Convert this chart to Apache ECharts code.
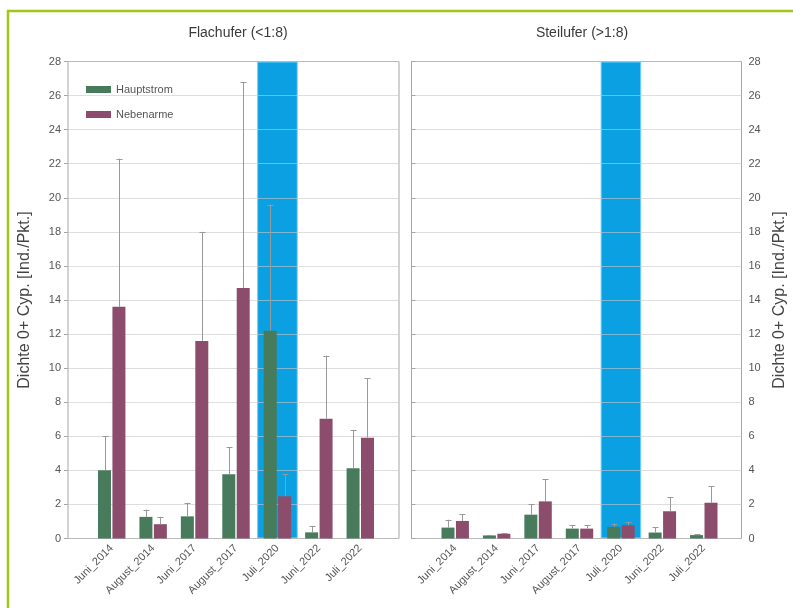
<!DOCTYPE html>
<html>
<head>
<meta charset="utf-8">
<script src="https://cdn.jsdelivr.net/npm/echarts@6/dist/echarts.min.js"></script>
<style>
  html, body { margin: 0; padding: 0; background: #ffffff; }
  #chart { width: 793px; height: 608px; }
</style>
</head>
<body>
<div id="chart"></div>
<script>
// Sampling dates
const categories = ['Juni_2014', 'August_2014', 'Juni_2017', 'August_2017', 'Juli_2020', 'Juni_2022', 'Juli_2022'];
const highlighted = 'Juli_2020';
const yTicks = { min: 0, max: 28, interval: 2 };

// Flachufer (<1:8): mean density and upper deviation
const flachHaupt   = [4.0, 1.27, 1.3, 3.77, 12.2, 0.36, 4.13];
const flachHauptSd = [2.0, 0.43, 0.8, 1.6, 7.4, 0.38, 2.25];
const flachNeben   = [13.6, 0.84, 11.6, 14.7, 2.48, 7.03, 5.92];
const flachNebenSd = [8.7, 0.43, 6.4, 12.1, 1.3, 3.7, 3.5];

// Steilufer (>1:8)
const steilHaupt   = [0.64, 0.18, 1.4, 0.58, 0.68, 0.35, 0.2];
const steilHauptSd = [0.46, 0.04, 0.6, 0.2, 0.2, 0.33, 0.05];
const steilNeben   = [1.03, 0.28, 2.18, 0.58, 0.78, 1.6, 2.1];
const steilNebenSd = [0.39, 0.04, 1.3, 0.2, 0.2, 0.83, 0.96];

const seriesNames = ['Hauptstrom', 'Nebenarme'];
const colors = { haupt: '#477b5c', neben: '#8c4d6c', band: '#0aa0e2', err: '#999999' };
const yName = 'Dichte 0+ Cyp. [Ind./Pkt.]';
const font = 'Liberation Sans, Arial, sans-serif';

const TOP = 61.5, HEIGHT = 477;
const BAR_W = 13, HALF_OFF = 7.2;

const chart = echarts.init(document.getElementById('chart'), null, { renderer: 'canvas' });

function frameY(position) {
  return {
    type: 'value', position: position, min: yTicks.min, max: yTicks.max, interval: yTicks.interval,
    axisLine: { show: false },
    axisTick: { show: true, length: 4, lineStyle: { color: '#a6a6a6' } },
    axisLabel: { color: '#555', fontSize: 11, fontFamily: font, margin: 7 },
    splitLine: { show: true, lineStyle: { color: 'rgba(200,200,200,0.6)', width: 1 } },
    name: yName, nameLocation: 'middle', nameRotate: 90,
    nameGap: position === 'left' ? 35 : 30,
    nameTextStyle: { color: '#444', fontSize: 16, fontFamily: font }
  };
}
function hiddenY() {
  return { type: 'value', min: yTicks.min, max: yTicks.max, show: false, splitLine: { show: false } };
}
function catX(gridIndex, showLabels) {
  return {
    type: 'category', gridIndex: gridIndex, data: categories,
    axisLine: { show: false }, axisTick: { show: false }, splitLine: { show: false },
    axisLabel: showLabels ? { show: true, rotate: 45, color: '#555', fontSize: 11, fontFamily: font, margin: 8, interval: 0 } : { show: false }
  };
}

function errorSeries(name, xIdx, yIdx, means, sds, offset) {
  return {
    type: 'custom', name: name + '_err', xAxisIndex: xIdx, yAxisIndex: yIdx, z: 5, silent: true,
    data: means.map((m, i) => [i, m, m + sds[i]]),
    renderItem: function (params, api) {
      const base = api.coord([api.value(0), api.value(1)]);
      const top = api.coord([api.value(0), api.value(2)]);
      const x = Math.round(base[0] + offset) + 0.5;
      const style = { stroke: colors.err, lineWidth: 1 };
      return {
        type: 'group',
        children: [
          { type: 'line', shape: { x1: x, y1: base[1], x2: x, y2: top[1] }, style: style },
          { type: 'line', shape: { x1: x - 3, y1: Math.round(top[1]) + 0.5, x2: x + 3, y2: Math.round(top[1]) + 0.5 }, style: style }
        ]
      };
    }
  };
}

function panelSeries(xIdx, bandX, yIdx, haupt, hauptSd, neben, nebenSd) {
  return [
    {
      // highlighted sampling date, drawn beneath the grid lines
      type: 'bar', xAxisIndex: bandX, yAxisIndex: yIdx, barWidth: '98%', z: -1, silent: true,
      itemStyle: { color: colors.band, borderColor: '#6fd0f8', borderWidth: 1 },
      data: categories.map(c => c === highlighted ? yTicks.max : null)
    },
    {
      type: 'bar', name: seriesNames[0], xAxisIndex: xIdx, yAxisIndex: yIdx, barWidth: BAR_W, barGap: '11%', z: 3,
      itemStyle: { color: colors.haupt }, data: haupt
    },
    {
      type: 'bar', name: seriesNames[1], xAxisIndex: xIdx, yAxisIndex: yIdx, barWidth: BAR_W, barGap: '11%', z: 3,
      itemStyle: { color: colors.neben }, data: neben
    },
    errorSeries(seriesNames[0], xIdx, yIdx, haupt, hauptSd, -HALF_OFF),
    errorSeries(seriesNames[1], xIdx, yIdx, neben, nebenSd, HALF_OFF)
  ];
}

const option = {
  backgroundColor: '#ffffff',
  animation: false,
  textStyle: { fontFamily: font },
  title: [
    { text: 'Flachufer (<1:8)', left: 233, top: 21, textAlign: 'center', textStyle: { color: '#3a3a3a', fontSize: 14, fontWeight: 'normal', fontFamily: font } },
    { text: 'Steilufer (>1:8)', left: 577, top: 21, textAlign: 'center', textStyle: { color: '#3a3a3a', fontSize: 14, fontWeight: 'normal', fontFamily: font } }
  ],
  legend: {
    data: seriesNames, orient: 'vertical', left: 81, top: 79, itemWidth: 25, itemHeight: 7, itemGap: 14,
    icon: 'rect', textStyle: { color: '#555', fontSize: 11, fontFamily: font }
  },
  grid: [
    { left: 68, top: TOP, width: 331, height: HEIGHT, show: true, borderColor: '#a6a6a6', borderWidth: 1, backgroundColor: 'transparent' },
    { left: 91, top: TOP, width: 290, height: HEIGHT },
    { left: 411.5, top: TOP, width: 330, height: HEIGHT, show: true, borderColor: '#a6a6a6', borderWidth: 1, backgroundColor: 'transparent' },
    { left: 434.5, top: TOP, width: 290, height: HEIGHT }
  ],
  xAxis: [
    { type: 'value', gridIndex: 0, show: false },
    catX(1, true),
    catX(1, false),
    { type: 'value', gridIndex: 2, show: false },
    catX(3, true),
    catX(3, false)
  ],
  yAxis: [
    Object.assign(frameY('left'), { gridIndex: 0 }),
    Object.assign(hiddenY(), { gridIndex: 1 }),
    Object.assign(frameY('right'), { gridIndex: 2 }),
    Object.assign(hiddenY(), { gridIndex: 3 })
  ],
  series: [].concat(
    panelSeries(1, 2, 1, flachHaupt, flachHauptSd, flachNeben, flachNebenSd),
    panelSeries(4, 5, 3, steilHaupt, steilHauptSd, steilNeben, steilNebenSd)
  ),
  graphic: [
    { type: 'line', z: 10, shape: { x1: 7, y1: 11, x2: 793, y2: 11 }, style: { stroke: '#a2c617', lineWidth: 2.5 } },
    { type: 'line', z: 10, shape: { x1: 8, y1: 10, x2: 8, y2: 608 }, style: { stroke: '#a2c617', lineWidth: 2.5 } }
  ]
};

chart.setOption(option);
</script>
</body>
</html>
